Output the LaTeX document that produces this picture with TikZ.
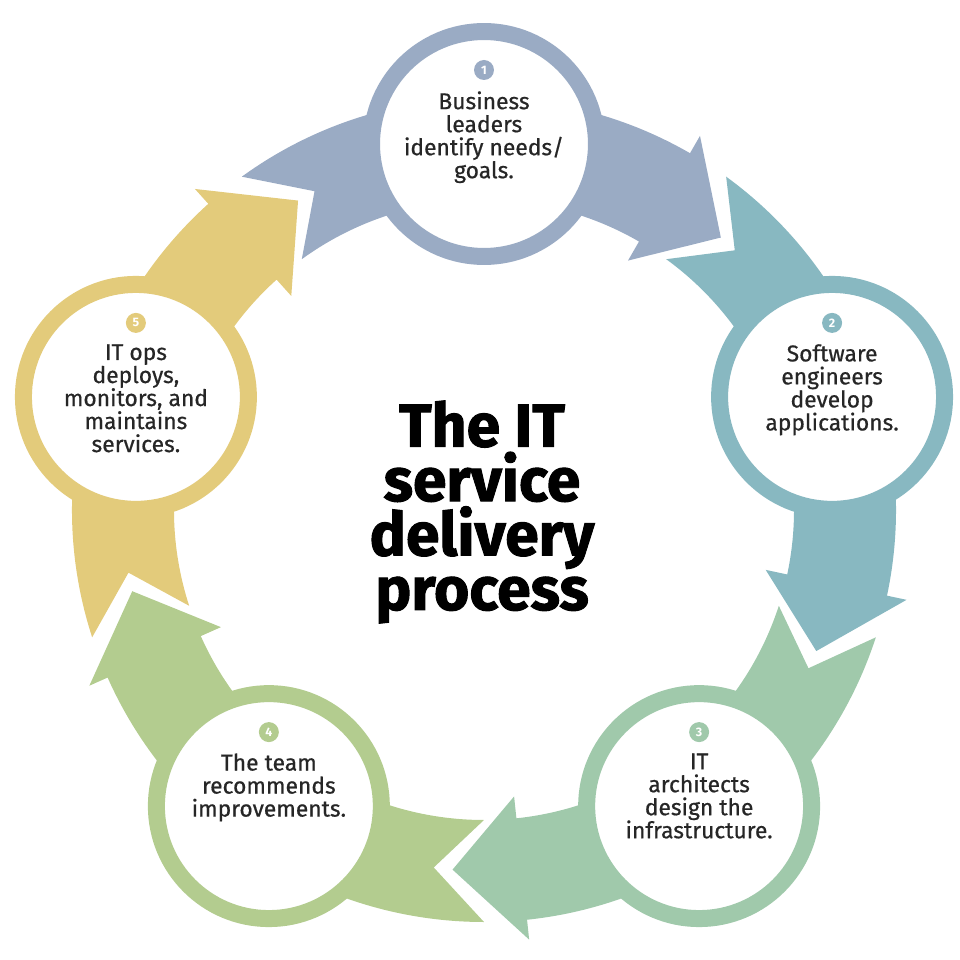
\documentclass[tikz,border=0pt]{standalone}
\usepackage{fontspec}
\setmainfont{Fira Sans}
\newfontfamily\pasofont{Fira Sans}[FakeBold=0.6]
\newfontfamily\titulofont{Fira Sans}[BoldFeatures={FakeBold=1.6}]
\usetikzlibrary{calc}

\definecolor{azul}{HTML}{9AABC4}
\definecolor{turquesa}{HTML}{88B8C1}
\definecolor{verde}{HTML}{A0C9AB}
\definecolor{oliva}{HTML}{B3CC8F}
\definecolor{amarillo}{HTML}{E3CB7B}

\tikzset{
  anillo/.style={circle, draw=#1, fill=white, line width=0.34cm, minimum size=4.5cm, inner sep=0pt},
  numero/.style={circle, fill=#1, text=white, inner sep=0pt, minimum size=0.4cm, font=\bfseries\fontsize{7}{7}\selectfont},
  texto/.style={align=center, text=black!85, inner sep=0pt, font=\pasofont\fontsize{13}{13.1}\selectfont},
  titulo/.style={align=center, inner sep=0pt, font=\titulofont\bfseries\fontsize{34.5}{31}\selectfont}
}

\begin{document}
\begin{tikzpicture}[x=0.02cm,y=0.02cm]
%marco del dibujo
\useasboundingbox (-484,-450) rectangle (476,510);

%flechas curvas y circulos de cada paso
\foreach \n/\ang/\col/\txt in {
  1/90/azul/{Business\\leaders\\identify needs/\\goals.},
  2/18/turquesa/{Software\\engineers\\develop\\applications.},
  3/-54/verde/{IT\\architects\\design the\\infrastructure.},
  4/-126/oliva/{The team\\recommends\\improvements.},
  5/-198/amarillo/{IT ops\\deploys,\\monitors, and\\maintains\\services.}}
{
  \fill[\col] (\ang+36:412) -- (\ang+28:361) -- (\ang+36:310)
    arc[start angle=\ang+36, end angle=\ang-30, radius=310]
    -- (\ang-30:288) -- (\ang-41:361) -- (\ang-30:432) -- (\ang-30:412)
    arc[start angle=\ang-30, end angle=\ang+36, radius=412] -- cycle;
  \node[anillo=\col] (paso\n) at (\ang:366) {};
  \node[numero=\col] (num\n) at ($(paso\n)+(0,74)$) {\n};
  \node[texto, anchor=north] (txt\n) at ($(paso\n)+(0,53)$) {\txt};
}

%titulo central
\node[titulo] (titulo) at (-2,-2) {The IT\\service\\delivery\\process};
\end{tikzpicture}
\end{document}
